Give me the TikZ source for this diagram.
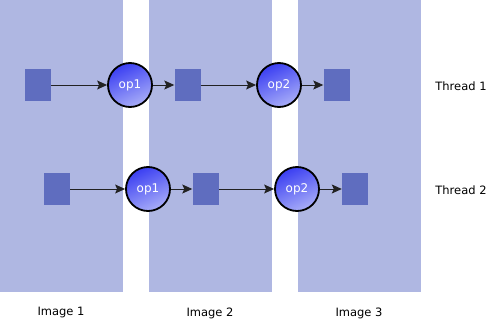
\documentclass[tikz,border=0pt]{standalone}
\usepackage{fontspec}
\setmainfont{DejaVu Sans}
\usetikzlibrary{arrows.meta}
\definecolor{colfill}{HTML}{AFB7E2}
\definecolor{sqfill}{HTML}{5F6DBF}
\definecolor{opdark}{HTML}{3A3EF2}
\definecolor{oplight}{HTML}{A9AEF8}
\definecolor{linec}{HTML}{222222}
\tikzset{
  column/.style={fill=colfill,draw=none},
  datasq/.style={rectangle,fill=sqfill,draw=none,minimum width=26pt,minimum height=32pt,inner sep=0pt},
  opnode/.style={circle,draw=black,line width=1.8pt,minimum size=44pt,inner sep=0pt,
    top color=opdark,bottom color=oplight,shading angle=25,text=white,font=\fontsize{12}{14}\selectfont},
  lbl/.style={font=\fontsize{11.5}{13}\selectfont,text=black},
  flow/.style={draw=linec,line width=1pt,-{Stealth[length=10pt,width=9pt,inset=2pt]}}
}
\begin{document}
\begin{tikzpicture}[x=1pt,y=-1pt]
\useasboundingbox (0,0) rectangle (488,319);
\fill[column] (0,0) rectangle (123,292);
\fill[column] (149,0) rectangle (272,292);
\fill[column] (298,0) rectangle (421,292);
% thread 1
\node[datasq] (a1) at (38,85) {};
\node[opnode] (o11) at (130,85) {op1};
\node[datasq] (a2) at (187.5,85) {};
\node[opnode] (o12) at (279,85) {op2};
\node[datasq] (a3) at (336.5,85) {};
\draw[flow] (a1) -- (o11);
\draw[flow] (o11) -- (a2);
\draw[flow] (a2) -- (o12);
\draw[flow] (o12) -- (a3);
% thread 2
\node[datasq] (b1) at (57,189) {};
\node[opnode] (o21) at (148,189) {op1};
\node[datasq] (b2) at (205.5,189) {};
\node[opnode] (o22) at (297,189) {op2};
\node[datasq] (b3) at (355,189) {};
\draw[flow] (b1) -- (o21);
\draw[flow] (o21) -- (b2);
\draw[flow] (b2) -- (o22);
\draw[flow] (o22) -- (b3);
% labels
\node[lbl] (t1) at (461,86) {Thread 1};
\node[lbl] (t2) at (461,190) {Thread 2};
\node[lbl] (i1) at (61,313) {Image 1};
\node[lbl] (i2) at (210,313) {Image 2};
\node[lbl] (i3) at (359,313) {Image 3};
\end{tikzpicture}
\end{document}
